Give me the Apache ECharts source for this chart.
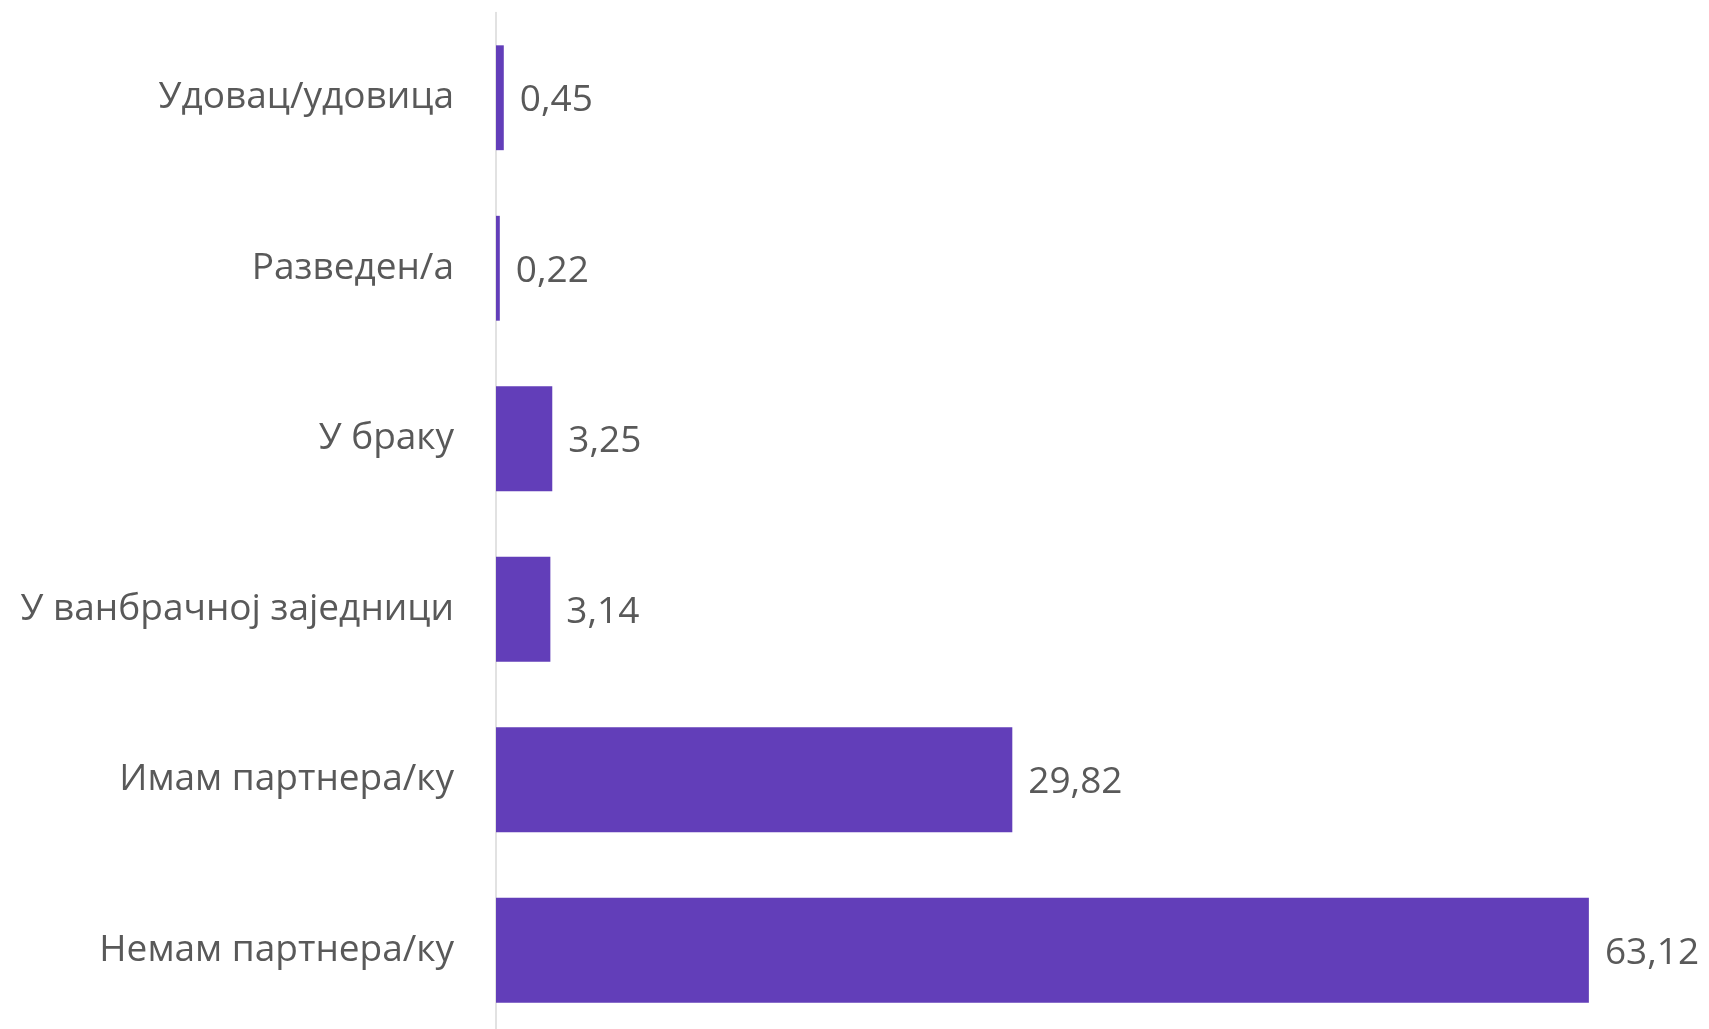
<!DOCTYPE html>
<html>
<head>
<meta charset="utf-8">
<script src="https://cdn.jsdelivr.net/npm/echarts@6/dist/echarts.min.js"></script>
<style>
    html, body { margin: 0; padding: 0; background: #fff; }
    #chart { width: 1709px; height: 1029px; }
</style>
</head>
<body>
<div id="chart"></div>
<script>
// bottom to top, as the category axis draws them
let categories = ['Немам партнера/ку', 'Имам партнера/ку', 'У ванбрачној заједници', 'У браку', 'Разведен/а', 'Удовац/удовица']
let values = [63.12, 29.82, 3.14, 3.25, 0.22, 0.45]

let textColor = '#595959'
let barColor = '#623eb9'

let option = {
    animation: false,
    grid: {
        left: 496,
        right: 1,
        top: 12.5,
        height: 1023,
        outerBoundsMode: 'none'
    },
    xAxis: {
        type: 'value',
        min: 0,
        max: 70,
        show: false
    },
    yAxis: {
        type: 'category',
        data: categories,
        axisTick: { show: false },
        axisLine: {
            lineStyle: { color: '#d9d9d9', width: 1.5 }
        },
        axisLabel: {
            color: textColor,
            fontFamily: 'Open Sans',
            fontSize: 37,
            margin: 42,
            padding: [4, 0, 0, 0]
        }
    },
    series: [
        {
            type: 'bar',
            data: values,
            barCategoryGap: '38.5%',
            itemStyle: { color: barColor },
            label: {
                show: true,
                position: 'right',
                distance: 16,
                offset: [0, 3],
                color: textColor,
                fontFamily: 'Open Sans',
                fontSize: 37,
                formatter: function (p) {
                    return p.value.toFixed(2).replace('.', ',')
                }
            }
        }
    ]
}

let myChart = echarts.init(document.getElementById('chart'))
myChart.setOption(option)
</script>
</body>
</html>
